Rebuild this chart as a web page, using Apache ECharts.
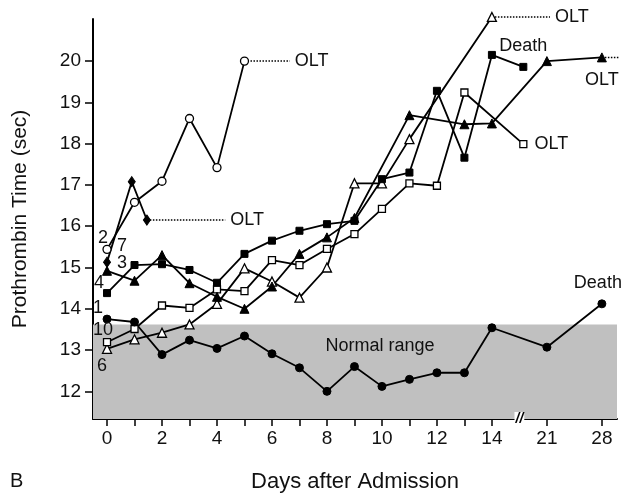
<!DOCTYPE html>
<html lang="en">
<head>
  <meta charset="UTF-8">
  <title>Prothrombin time</title>
  <script src="https://cdn.jsdelivr.net/npm/echarts@6/dist/echarts.min.js"></script>
  <style>
    html, body { margin: 0; padding: 0; background: #fff; }
    #chart { width: 621px; height: 503px; }
  </style>
</head>
<body>
<div id="chart"></div>
<script type="text/javascript">
  // x ticks / labels (days); after day 14 the axis is broken
  var tickDays = [0, 1, 2, 3, 4, 5, 6, 7, 8, 9, 10, 11, 12, 13, 14, 21, 28];
  var labelDays = [0, 2, 4, 6, 8, 10, 12, 14, 21, 28];
  var yTicks = [12, 13, 14, 15, 16, 17, 18, 19, 20];
  var normalRange = [11.33, 13.62];

  // patient 1 - filled circle
  var days1 = [0, 1, 2, 3, 4, 5, 6, 7, 8, 9, 10, 11, 12, 13, 14, 21, 28];
  var pt1 = [13.75, 13.68, 12.89, 13.24, 13.04, 13.34, 12.91, 12.57, 12.0, 12.6, 12.12, 12.29, 12.45, 12.45, 13.54, 13.07, 14.12];
  // patient 2 - open circle
  var days2 = [0, 1, 2, 3, 4, 5];
  var pt2 = [15.44, 16.58, 17.09, 18.61, 17.42, 20.0];
  // patient 3 - filled triangle
  var days3 = [0, 1, 2, 3, 4, 5, 6, 7, 8, 9, 11, 13, 14, 21, 28];
  var pt3 = [14.92, 14.68, 15.3, 14.62, 14.29, 14.0, 14.54, 15.33, 15.73, 16.2, 18.69, 18.47, 18.49, 20.0, 20.09];
  // patient 4 - filled square
  var days4 = [0, 1, 2, 3, 4, 5, 6, 7, 8, 9, 10, 11, 12, 13, 14, 18];
  var pt4 = [14.38, 15.06, 15.08, 14.94, 14.63, 15.33, 15.65, 15.89, 16.05, 16.13, 17.14, 17.3, 19.28, 17.66, 20.15, 19.86];
  // patient 6 - open triangle
  var days6 = [0, 1, 2, 3, 4, 5, 6, 7, 8, 9, 10, 11, 14];
  var pt6 = [13.03, 13.26, 13.42, 13.62, 14.12, 14.98, 14.66, 14.27, 15.0, 17.04, 17.04, 18.11, 21.07];
  // patient 7 - filled diamond
  var days7 = [0, 0.9, 1.45];
  var pt7 = [15.13, 17.08, 16.15];
  // patient 10 - open square
  var days10 = [0, 1, 2, 3, 4, 5, 6, 7, 8, 9, 10, 11, 12, 13, 18];
  var pt10 = [13.19, 13.51, 14.08, 14.02, 14.47, 14.43, 15.18, 15.06, 15.45, 15.81, 16.42, 17.04, 16.98, 19.24, 17.99];

  // dotted "OLT" leaders [startDay, endDay, value]
  var olt2 = [5, 6.65, 20.0];
  var olt7 = [1.45, 4.3, 16.15];
  var olt6 = [14, 21.4, 21.07];
  var olt3 = [28, 30.5, 20.09];

  function xPos(d) {
    return d <= 14 ? d : 14 + (d - 14) * 2 / 7;
  }
  function dayOf(p) {
    return p <= 14 ? p : 14 + (p - 14) * 7 / 2;
  }

  var font = 'Liberation Sans, Arial, Helvetica, sans-serif';

  function pts(days, vals) {
    var out = [];
    for (let i = 0; i < days.length; i++) {
      out.push([xPos(days[i]), vals[i]]);
    }
    return out;
  }

  function patient(days, vals, symbol, size, filled, tag, tagOffset) {
    var data = pts(days, vals);
    data[0] = {
      value: data[0],
      label: {
        show: true, formatter: tag, position: 'inside', offset: tagOffset,
        color: '#111', fontSize: 18, fontFamily: font
      }
    };
    return {
      type: 'line',
      data: data,
      symbol: symbol,
      symbolSize: size,
      showAllSymbol: true,
      clip: false,
      z: 3,
      lineStyle: { color: '#000', width: 1.8 },
      itemStyle: filled
        ? { color: '#000', borderColor: '#000', borderWidth: 1 }
        : { color: '#fff', borderColor: '#000', borderWidth: 1.3 }
    };
  }

  function endTag(s, text, pos, offset) {
    var n = s.data.length - 1;
    s.data[n] = {
      value: s.data[n],
      label: {
        show: true, formatter: text, position: pos, offset: offset,
        color: '#111', fontSize: 18, fontFamily: font
      }
    };
    return s;
  }

  function oltLine(o) {
    return {
      type: 'line',
      data: [[xPos(o[0]), o[2]], [xPos(o[1]), o[2]]],
      symbol: 'none',
      clip: false,
      z: 2,
      lineStyle: { color: '#000', width: 1.5, type: 'dotted' },
      endLabel: { show: false }
    };
  }

  var s1 = endTag(patient(days1, pt1, 'circle', 8, true, '1', [-9, -11]), 'Death', 'top', [-4, -2]);
  var s2 = patient(days2, pt2, 'circle', 8, false, '2', [-4, -11]);
  var s3 = endTag(patient(days3, pt3, 'triangle', 9, true, '3', [15, -8]), 'OLT', 'bottom', [0, 4]);
  var s4 = endTag(patient(days4, pt4, 'rect', 7, true, '4', [-8, -10]), 'Death', 'top', [0, -3]);
  var s6 = patient(days6, pt6, 'triangle', 9, false, '6', [-5, 17]);
  var s7 = patient(days7, pt7, 'diamond', [7, 10], true, '7', [15, -16]);
  var s10 = endTag(patient(days10, pt10, 'rect', 7, false, '10', [-4, -12]), 'OLT', 'right', [2, 0]);

  function withOlt(o) {
    var s = oltLine(o);
    s.endLabel = { show: true, formatter: 'OLT', distance: 5, color: '#111', fontSize: 18, fontFamily: font };
    return s;
  }

  var band = {
    type: 'line',
    data: [],
    z: 1,
    silent: true,
    markArea: {
      silent: true,
      itemStyle: { color: '#c0c0c0' },
      label: {
        show: true, position: 'insideTop', offset: [25, 8],
        formatter: 'Normal range', color: '#111', fontSize: 18, fontFamily: font
      },
      data: [[{ xAxis: -0.51, yAxis: normalRange[0] }, { xAxis: 18.55, yAxis: normalRange[1] }]]
    },
    markPoint: {
      symbol: 'rect',
      symbolSize: [1, 1],
      itemStyle: { color: 'rgba(0,0,0,0)' },
      label: {
        show: true, position: 'inside', formatter: '//', color: '#000',
        fontSize: 14, fontWeight: 'bold', fontStyle: 'italic', fontFamily: font,
        backgroundColor: '#fff', padding: [0, 1]
      },
      data: [{ coord: [15, normalRange[0]] }]
    }
  };

  var chart = echarts.init(document.getElementById('chart'));
  var option = {
    animation: false,
    backgroundColor: '#fff',
    grid: { left: 93, right: 4, top: 19, bottom: 84, outerBoundsMode: 'none' },
    xAxis: {
      type: 'value',
      min: -0.51,
      max: 18.55,
      name: 'Days after Admission',
      nameLocation: 'middle',
      nameGap: 52,
      nameTextStyle: { color: '#111', fontSize: 22, fontFamily: font },
      splitLine: { show: false },
      axisLine: { show: true, onZero: false, lineStyle: { color: '#000', width: 2 } },
      axisTick: {
        show: true, length: 7, lineStyle: { color: '#000', width: 1.5 },
        customValues: tickDays.map(xPos)
      },
      axisLabel: {
        customValues: labelDays.map(xPos),
        margin: 10,
        color: '#111', fontSize: 19, fontFamily: font,
        formatter: function (v) { return String(Math.round(dayOf(v))); }
      }
    },
    yAxis: {
      type: 'value',
      min: 11.33,
      max: 21.02,
      name: 'Prothrombin Time (sec)',
      nameLocation: 'middle',
      nameGap: 62,
      nameTextStyle: { color: '#111', fontSize: 21, fontFamily: font },
      splitLine: { show: false },
      axisLine: { show: true, onZero: false, lineStyle: { color: '#000', width: 2 } },
      axisTick: {
        show: true, length: 8, lineStyle: { color: '#000', width: 1.5 },
        customValues: yTicks
      },
      axisLabel: {
        customValues: yTicks,
        margin: 12,
        color: '#111', fontSize: 19, fontFamily: font
      }
    },
    graphic: [
      { type: 'text', left: 10, top: 471, style: { text: 'B', fontSize: 20, fontFamily: font, fill: '#111' } }
    ],
    series: [
      band,
      withOlt(olt2), withOlt(olt7), withOlt(olt6), oltLine(olt3),
      s6, s10, s2, s1, s4, s3, s7
    ]
  };
  chart.setOption(option);
</script>
</body>
</html>
